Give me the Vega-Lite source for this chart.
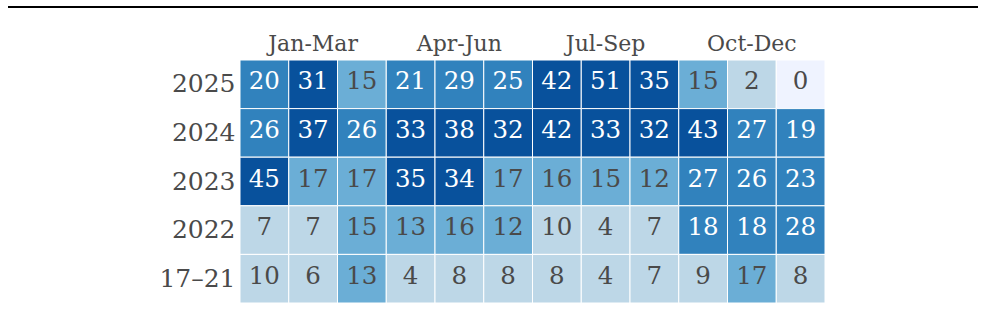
{
"$schema": "https://vega.github.io/schema/vega-lite/v6.json",
"width": 585, "height": 243,
"autosize": {"type": "none"},
"padding": {"left": 240, "top": 60, "right": 160, "bottom": 6},
"config": {"view": {"stroke": null}, "font": "DejaVu Serif"},
"data": {"values": [
{"r":"2025","m":1,"v":20},{"r":"2025","m":2,"v":31},{"r":"2025","m":3,"v":15},{"r":"2025","m":4,"v":21},{"r":"2025","m":5,"v":29},{"r":"2025","m":6,"v":25},{"r":"2025","m":7,"v":42},{"r":"2025","m":8,"v":51},{"r":"2025","m":9,"v":35},{"r":"2025","m":10,"v":15},{"r":"2025","m":11,"v":2},{"r":"2025","m":12,"v":0},
{"r":"2024","m":1,"v":26},{"r":"2024","m":2,"v":37},{"r":"2024","m":3,"v":26},{"r":"2024","m":4,"v":33},{"r":"2024","m":5,"v":38},{"r":"2024","m":6,"v":32},{"r":"2024","m":7,"v":42},{"r":"2024","m":8,"v":33},{"r":"2024","m":9,"v":32},{"r":"2024","m":10,"v":43},{"r":"2024","m":11,"v":27},{"r":"2024","m":12,"v":19},
{"r":"2023","m":1,"v":45},{"r":"2023","m":2,"v":17},{"r":"2023","m":3,"v":17},{"r":"2023","m":4,"v":35},{"r":"2023","m":5,"v":34},{"r":"2023","m":6,"v":17},{"r":"2023","m":7,"v":16},{"r":"2023","m":8,"v":15},{"r":"2023","m":9,"v":12},{"r":"2023","m":10,"v":27},{"r":"2023","m":11,"v":26},{"r":"2023","m":12,"v":23},
{"r":"2022","m":1,"v":7},{"r":"2022","m":2,"v":7},{"r":"2022","m":3,"v":15},{"r":"2022","m":4,"v":13},{"r":"2022","m":5,"v":16},{"r":"2022","m":6,"v":12},{"r":"2022","m":7,"v":10},{"r":"2022","m":8,"v":4},{"r":"2022","m":9,"v":7},{"r":"2022","m":10,"v":18},{"r":"2022","m":11,"v":18},{"r":"2022","m":12,"v":28},
{"r":"17–21","m":1,"v":10},{"r":"17–21","m":2,"v":6},{"r":"17–21","m":3,"v":13},{"r":"17–21","m":4,"v":4},{"r":"17–21","m":5,"v":8},{"r":"17–21","m":6,"v":8},{"r":"17–21","m":7,"v":8},{"r":"17–21","m":8,"v":4},{"r":"17–21","m":9,"v":7},{"r":"17–21","m":10,"v":9},{"r":"17–21","m":11,"v":17},{"r":"17–21","m":12,"v":8}
]},
"layer": [
{"mark": {"type": "rect", "stroke": "white", "strokeWidth": 1},
 "encoding": {
  "x": {"field": "m", "type": "ordinal", "scale": {"paddingInner": 0, "paddingOuter": 0},
        "axis": {"orient": "top", "title": null, "ticks": false, "domain": false, "labelAngle": 0, "labelFontSize": 22, "labelColor": "#4a4a4a", "labelPadding": 5, "labelFont": "DejaVu Serif",
                 "labelExpr": "datum.value == 2 ? 'Jan-Mar' : datum.value == 5 ? 'Apr-Jun' : datum.value == 8 ? 'Jul-Sep' : datum.value == 11 ? 'Oct-Dec' : ''"}},
  "y": {"field": "r", "type": "ordinal", "sort": ["2025","2024","2023","2022","17–21"], "scale": {"paddingInner": 0, "paddingOuter": 0},
        "axis": {"title": null, "ticks": false, "domain": false, "labelFontSize": 25, "labelColor": "#4a4a4a", "labelPadding": 5, "labelFont": "DejaVu Serif"}},
  "color": {"field": "v", "type": "quantitative", "scale": {"type": "threshold", "domain": [1, 11, 18, 31], "range": ["#eff3ff","#bdd7e7","#6baed6","#3182bd","#08519c"]}, "legend": null}
 }},
{"mark": {"type": "text", "fontSize": 24.5, "font": "DejaVu Serif", "dy": -2},
 "encoding": {
  "x": {"field": "m", "type": "ordinal"},
  "y": {"field": "r", "type": "ordinal", "sort": ["2025","2024","2023","2022","17–21"]},
  "text": {"field": "v", "type": "quantitative"},
  "color": {"condition": {"test": "datum.v >= 18", "value": "white"}, "value": "#4a4a4a"}
 }},
{"data": {"values": [{}]},
 "mark": {"type": "rule", "color": "black", "strokeWidth": 2, "clip": false},
 "encoding": {"x": {"value": -232}, "x2": {"value": 738}, "y": {"value": -53}}}
]
}
